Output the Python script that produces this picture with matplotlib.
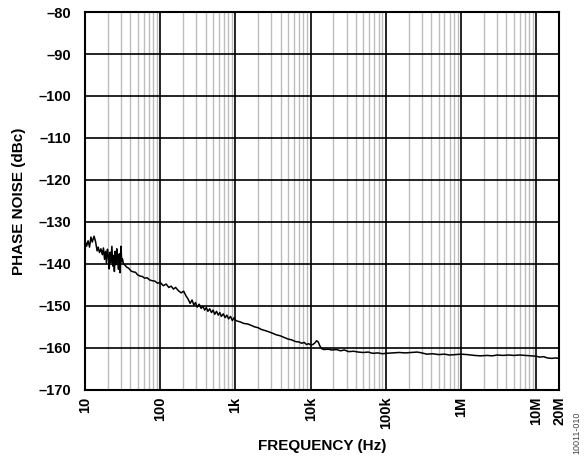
import matplotlib
matplotlib.use('Agg')
import matplotlib.pyplot as plt
from matplotlib.ticker import FixedLocator, LogLocator, NullFormatter

plt.rcParams['font.family'] = ['Liberation Sans', 'DejaVu Sans']
plt.rcParams['font.weight'] = 'bold'

# phase noise trace, frequency offset (Hz) vs dBc
freq = [10, 10.5, 11, 11.5, 12, 12.5, 13.2, 13.8, 14.5, 15, 15.6, 16.3, 17, 17.6,
        18.2, 18.8, 19.3, 19.9, 20.5, 21, 21.6, 22.2, 22.8, 23.4, 24, 24.6, 25.2,
        25.8, 26.5, 27.2, 27.9, 28.6, 29.3, 30, 30.8, 31.5, 32.5, 34, 36, 38, 41,
        44, 47, 50, 54, 58, 62, 67, 72, 78, 85, 92,
        100, 110, 120, 130, 140, 150, 160, 175, 190, 205, 220, 235, 250, 265, 280,
        295, 310, 330, 350, 370, 390, 410, 430, 455, 480, 505, 530, 560, 590, 620,
        650, 690, 730, 770, 810, 860, 910, 960,
        1000, 1050, 1150, 1300, 1450, 1600, 1800, 2000, 2200, 2500, 2800, 3100,
        3500, 3900, 4400, 5000, 5600, 6300, 7000, 7600, 8200, 8800, 9400,
        10000, 10700, 11400, 12000, 12600, 13300, 14000, 15000, 17000, 19000,
        22000, 25000, 28000, 32000, 37000, 43000, 50000, 58000, 67000, 78000, 90000,
        1e5, 1.2e5, 1.5e5, 1.8e5, 2.2e5, 2.6e5, 3e5, 3.5e5, 4.2e5, 5e5, 6e5, 7e5,
        8.5e5, 1e6, 1.2e6, 1.5e6, 1.8e6, 2.2e6, 2.6e6, 3e6, 3.6e6, 4.3e6, 5e6, 6e6,
        7e6, 8.5e6, 1e7, 1.1e7, 1.25e7, 1.4e7, 1.6e7, 1.8e7, 2e7]
noise = [-134.3, -135.8, -134.5, -136.0, -133.6, -134.8, -133.4, -134.6, -136.9,
         -136.0, -137.3, -136.4, -137.8, -136.2, -138.9, -137.0, -139.8, -136.5,
         -138.3, -141.2, -137.2, -139.6, -135.8, -140.5, -138.0, -141.8, -137.0,
         -140.2, -136.4, -139.1, -141.3, -137.6, -142.1, -135.8, -139.5, -138.8,
         -140.0, -140.3, -140.8, -141.0, -141.7, -141.9, -142.0, -142.6, -142.9,
         -143.0, -143.4, -143.3, -143.8, -144.0, -144.1, -144.6,
         -144.4, -145.2, -144.8, -145.6, -145.3, -146.0, -145.6, -146.4, -146.9,
         -146.5, -147.6, -148.4, -149.4, -148.6, -149.8, -149.2, -150.3, -149.6,
         -150.6, -150.1, -151.0, -150.4, -151.3, -150.7, -151.6, -151.0, -152.0,
         -151.3, -152.2, -151.6, -152.5, -151.9, -152.8, -152.2, -153.1, -152.5,
         -153.5, -152.8,
         -153.4, -153.6, -153.8, -154.2, -154.3, -154.6, -155.0, -155.2, -155.6,
         -155.9, -156.2, -156.5, -156.9, -157.1, -157.5, -157.9, -158.1, -158.5,
         -158.6, -158.9, -158.7, -159.2, -159.0,
         -159.3, -159.2, -158.8, -158.3, -158.6, -159.6, -160.2, -160.4, -160.3,
         -160.5, -160.4, -160.7, -160.5, -160.9, -160.8, -161.0, -161.1, -161.0,
         -161.3, -161.2, -161.4,
         -161.3, -161.2, -161.1, -161.2, -161.1, -161.0, -161.2, -161.5, -161.4,
         -161.6, -161.5, -161.7, -161.6, -161.5, -161.6, -161.8, -161.9, -161.8,
         -161.9, -161.7, -161.8, -161.7, -161.8, -161.7, -161.8, -161.9, -162.0,
         -162.2, -162.1, -162.4, -162.5, -162.4, -162.5]

xticks = [10, 100, 1e3, 1e4, 1e5, 1e6, 1e7, 2e7]
xlabels = ['10', '100', '1k', '10k', '100k', '1M', '10M', '20M']
yticks = list(range(-170, -79, 10))

fig = plt.figure(figsize=(5.86, 4.63), dpi=100)
ax = fig.add_axes([0.145, 0.158, 0.809, 0.816])

ax.plot(freq, noise, color='black', lw=1.1, zorder=3)

ax.set_xscale('log')
ax.set_xlim(10, 2e7)
ax.set_ylim(-170, -80)

ax.xaxis.set_major_locator(FixedLocator(xticks))
ax.set_xticklabels(xlabels, rotation=90, fontsize=10.5, fontweight='bold')
ax.xaxis.set_minor_locator(LogLocator(base=10, subs=range(2, 10), numticks=20))
ax.xaxis.set_minor_formatter(NullFormatter())
ax.set_yticks(yticks)
ax.set_yticklabels([f'\u2013{abs(v)}' for v in yticks], fontsize=10.5, fontweight='bold')

ax.grid(which='major', color='black', lw=1.2)
ax.grid(which='minor', axis='x', color='#bdbdbd', lw=1.0)
ax.tick_params(which='both', length=0)
ax.tick_params(axis='y', pad=10)
ax.tick_params(axis='x', pad=5)
for s in ax.spines.values():
    s.set_linewidth(1.5)

ax.set_xlabel('FREQUENCY (Hz)', fontsize=11, fontweight='bold', labelpad=7)
ax.set_ylabel('PHASE NOISE (dBc)', fontsize=11, fontweight='bold', labelpad=9)

fig.text(0.985, 0.02, '10011-010', rotation=90, fontsize=6.5, color='#444444',
         fontweight='normal', ha='center', va='bottom')

fig.savefig('out.png', dpi=100)
